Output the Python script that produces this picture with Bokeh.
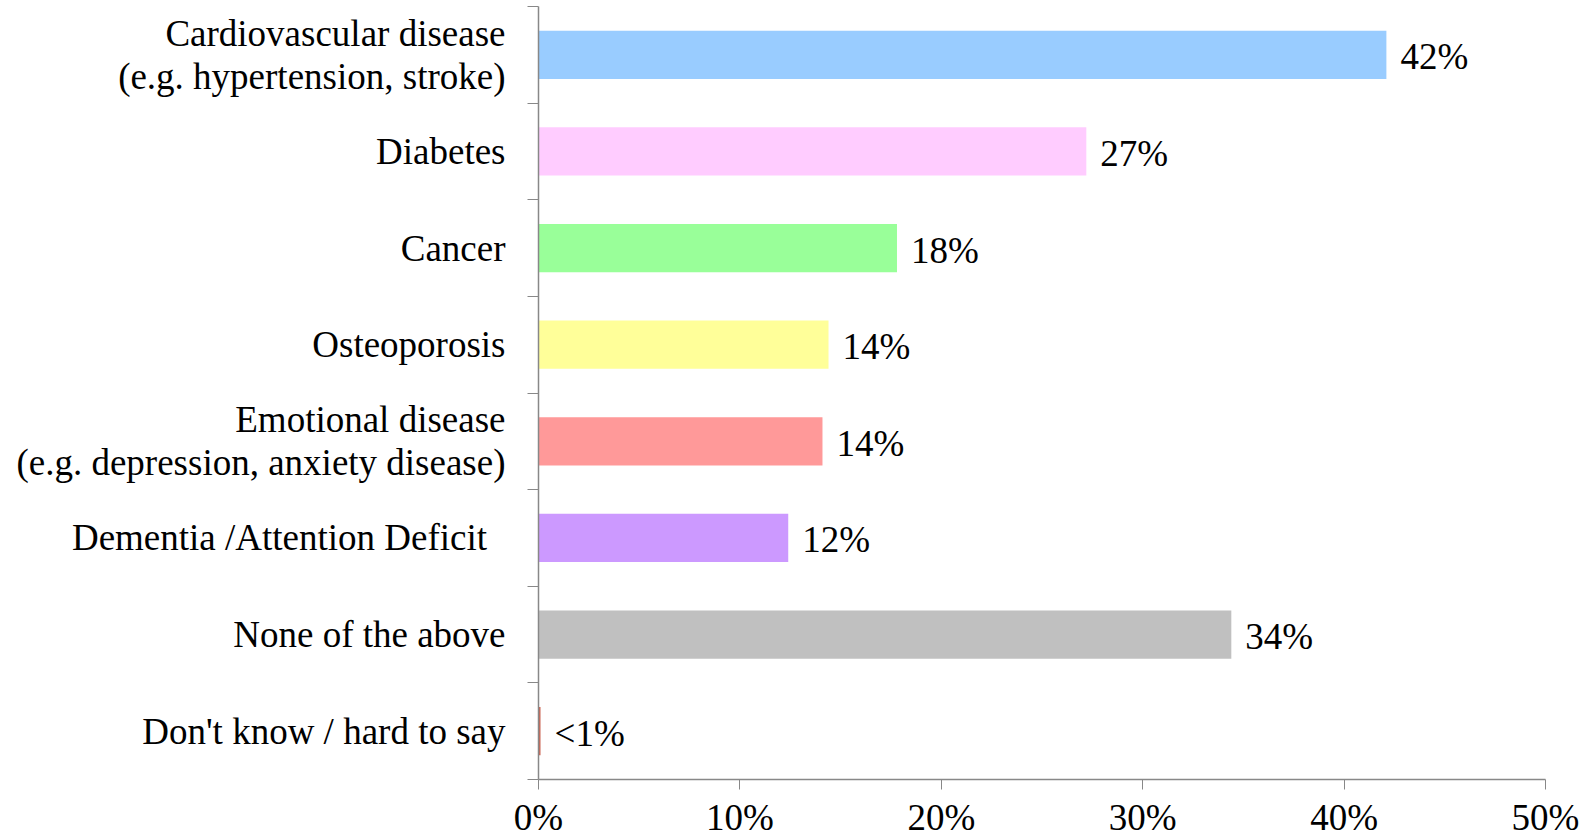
from bokeh.plotting import figure
from bokeh.models import Range1d, FixedTicker, ColumnDataSource
from bokeh.core.properties import value
from bokeh.embed import file_html
from bokeh.resources import INLINE

# Survey responses, listed top to bottom
categories = [
    "Cardiovascular disease\n(e.g. hypertension, stroke)",
    "Diabetes",
    "Cancer",
    "Osteoporosis",
    "Emotional disease\n(e.g. depression, anxiety disease)",
    "Dementia /Attention Deficit\u00a0\u00a0",
    "None of the above",
    "Don't know / hard to say",
]
shares = [42.1, 27.2, 17.8, 14.4, 14.1, 12.4, 34.4, 0.1]
bar_colors = ["#99CCFF", "#FFCCFF", "#99FF99", "#FFFF99",
              "#FF9999", "#CC99FF", "#C0C0C0", "#CC6655"]
x_ticks = [0, 10, 20, 30, 40, 50]
x_tick_labels = ["0%", "10%", "20%", "30%", "40%", "50%"]

FONT = "Liberation Serif"
FONT_SIZE = "37px"
AXIS_GRAY = "#888888"

n = len(categories)
centers = [n - i - 0.5 for i in range(n)]
value_labels = ["<1%" if s < 1 else f"{round(s)}%" for s in shares]

src = ColumnDataSource(dict(y=centers, v=shares, color=bar_colors, lbl=value_labels))

p = figure(width=1594, height=840, output_backend="svg", toolbar_location=None,
           x_range=Range1d(0, 50), y_range=Range1d(0, n),
           min_border_left=538, min_border_right=49, min_border_top=6, min_border_bottom=59)
p.outline_line_color = None
p.xgrid.visible = False
p.ygrid.visible = False

p.hbar(y="y", right="v", left=0, height=0.5, color="color", line_color=None, source=src)
p.text(x="v", y="y", text="lbl", source=src, x_offset=14, y_offset=2, text_align="left",
       text_baseline="middle", text_font=value(FONT), text_font_size=FONT_SIZE,
       text_color="black")

# x axis: percentage scale
xa = p.xaxis[0]
xa.ticker = FixedTicker(ticks=x_ticks)
xa.major_label_overrides = {t: l for t, l in zip(x_ticks, x_tick_labels)}
xa.axis_line_color = AXIS_GRAY
xa.axis_line_width = 1.5
xa.major_tick_line_color = AXIS_GRAY
xa.major_tick_in = 0
xa.major_tick_out = 10
xa.minor_tick_line_color = None
xa.major_label_standoff = 7
xa.major_label_text_font = FONT
xa.major_label_text_font_size = FONT_SIZE
xa.major_label_text_color = "black"

# y axis: category names at bar centres, tick marks between categories
ya = p.yaxis[0]
ya.ticker = FixedTicker(ticks=centers, minor_ticks=list(range(n + 1)))
ya.major_label_overrides = {c: t for c, t in zip(centers, categories)}
ya.axis_line_color = AXIS_GRAY
ya.axis_line_width = 1.5
ya.major_tick_line_color = None
ya.major_tick_in = 0
ya.major_tick_out = 11
ya.minor_tick_line_color = AXIS_GRAY
ya.minor_tick_in = 0
ya.minor_tick_out = 11
ya.major_label_standoff = 22
ya.major_label_text_font = FONT
ya.major_label_text_font_size = FONT_SIZE
ya.major_label_text_line_height = 1.05
ya.major_label_text_color = "black"

open("out.html", "w").write(file_html(p, INLINE))
